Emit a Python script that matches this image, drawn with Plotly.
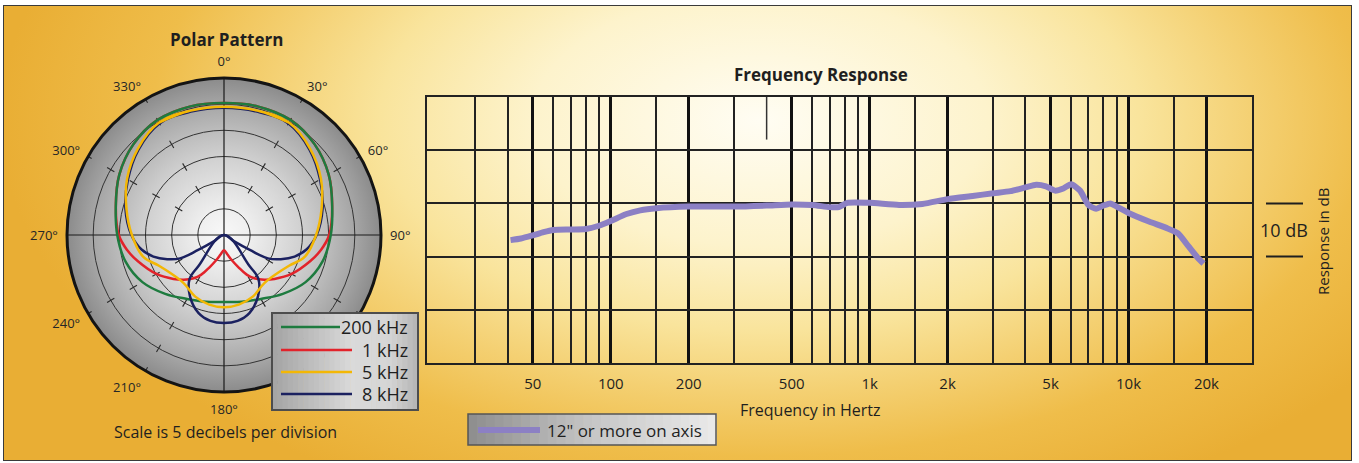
import numpy as np
import plotly.graph_objects as go

# ---------------- data ----------------
# Frequency response, 12" or more on axis
freq_hz = [41, 45, 50, 55, 60, 70, 80, 90, 100, 115, 130, 150, 200, 300, 400, 500,
           600, 700, 760, 820, 1000, 1300, 1600, 2000, 2500, 3000, 3500, 4000, 4400,
           4800, 5200, 5600, 6000, 6500, 7000, 7500, 8000, 8500, 9000, 10000, 12000,
           14000, 15500, 17000, 18500, 19500]
response_db = [-6.9, -6.6, -6.0, -5.4, -5.0, -4.9, -4.8, -4.2, -3.3, -2.0, -1.3, -0.9,
               -0.6, -0.6, -0.4, -0.2, -0.3, -0.7, -0.7, 0.1, 0.1, -0.3, -0.1, 0.8,
               1.4, 1.9, 2.3, 3.0, 3.5, 3.2, 2.4, 2.8, 3.6, 2.4, -0.3, -1.0, -0.4,
               0.0, -0.6, -1.8, -3.4, -4.6, -5.6, -8.0, -10.2, -11.3]
response_name = '12" or more on axis'

freq_major = [50, 100, 200, 500, 1000, 2000, 5000, 10000, 20000]
freq_major_labels = ["50", "100", "200", "500", "1k", "2k", "5k", "10k", "20k"]
freq_minor = [30, 40, 60, 70, 80, 90, 150, 300, 600, 700, 800, 900, 1500,
              3000, 4000, 6000, 7000, 8000, 9000, 15000]
db_grid = [-20, -10, 0, 10]

# Polar pattern, dB relative to on-axis, one half (0..180 deg), symmetric
green_theta = [0, 15, 30, 45, 60, 75, 90, 105, 120, 135, 150, 165, 180]
green_db = [-4.8, -4.6, -4.6, -5.5, -6.9, -8.6, -9.6, -10.5, -12.0, -14.1, -15.9, -16.8, -17.2]

red_theta = [0, 15, 30, 45, 60, 75, 90, 99, 107, 120, 131, 138, 145, 150, 156, 163, 170, 180]
red_db = [-4.8, -4.6, -4.6, -5.5, -6.9, -8.6, -9.9, -11.3, -12.8, -15.1, -17.2, -18.5,
          -19.9, -21.2, -23.3, -25.0, -26.2, -27.1]

yellow_theta = [0, 15, 30, 45, 60, 75, 90, 105, 115, 125, 140, 155, 168, 180]
yellow_db = [-5.5, -5.4, -5.2, -6.7, -8.6, -10.7, -12.4, -14.0, -16.2, -17.4, -18.0,
             -17.0, -16.4, -16.2]

navy_front_theta = [0, 15, 30, 45, 60, 75, 90, 100, 107, 113, 118, 120, 122, 124]
navy_front_db = [-5.7, -5.6, -5.4, -6.9, -8.8, -10.5, -12.3, -14.0, -15.9, -18.2,
                 -20.5, -24.3, -27.7, -30.0]
navy_rear_theta = [139, 140.5, 142, 151, 162, 171, 180]
navy_rear_db = [-30.0, -22.4, -19.3, -16.6, -14.3, -13.4, -13.2]

polar_names = ["200 kHz", "1 kHz", "5 kHz", "8 kHz"]
polar_colors = ["#1e7b3f", "#e2232b", "#f3b705", "#1b2160"]

angle_ticks = list(range(0, 360, 30))
angle_hidden = [120, 150]          # these labels sit under the legend box
ring_db = [-25, -20, -15, -10, -5]

# ---------------- layout constants ----------------
W, H = 1359, 463
FONT = "Open Sans"
INK = "#1f1f1f"
PANEL = (3, 5, 1352, 461)          # x0, y0, x1, y1 in pixels
PCX, PCY, PR = 224, 235, 157       # polar centre / radius in pixels
FR = (427, 97, 1252, 363)          # frequency plot area in pixels
DB_MIN, DB_MAX = -30, 0
AXIS_EXT = 2.5                     # cross-hair overshoot beyond 0 dB ring


def mirror(theta, vals):
    """Full loop (ordered 180 -> 360 -> 180) from one symmetric half."""
    th = [360 - t for t in reversed(theta)] + list(theta[1:])
    vv = list(reversed(vals)) + list(vals[1:])
    return th, vv


fig = go.Figure()

# ---- background panel, pixel coordinates ----
fig.add_trace(go.Scatter(
    x=[0, 1520, 1520, 0, 0], y=[-300, -300, 540, 540, -300],
    mode="lines", line=dict(width=0), fill="toself",
    fillgradient=dict(type="radial", colorscale=[
        [0.0, "#fffdf3"], [0.3, "#fdf3cc"], [0.5, "#f9e49c"],
        [0.65, "#f4d072"], [0.8, "#efbd4a"], [1.0, "#e9ae34"]]),
    hoverinfo="skip", showlegend=False, xaxis="x", yaxis="y"))

# grey shaded disc behind the polar grid
t = np.linspace(0, 2 * np.pi, 361)
fig.add_trace(go.Scatter(
    x=PCX + PR * np.cos(t), y=PCY + PR * np.sin(t),
    mode="lines", line=dict(width=0), fill="toself",
    fillgradient=dict(type="radial", colorscale=[
        [0.0, "#f8f8f8"], [0.15, "#f0f0f0"], [0.5, "#d0d0d0"],
        [0.66, "#bdbdbd"], [0.83, "#a6a6a6"], [1.0, "#8b8b8b"]]),
    hoverinfo="skip", showlegend=False, xaxis="x", yaxis="y"))

# ---- frequency response ----
fig.add_trace(go.Scatter(
    x=[400, 400], y=[20, 12], mode="lines",
    line=dict(color="#333", width=1.5), hoverinfo="skip",
    showlegend=False, xaxis="x2", yaxis="y2"))
fig.add_trace(go.Scatter(
    x=freq_hz, y=response_db, mode="lines", name=response_name,
    line=dict(color="#8c80c4", width=6, shape="spline", smoothing=0.6),
    showlegend=False, xaxis="x2", yaxis="y2"))

# ---- polar pattern ----
spokes = [a for a in angle_ticks if a % 90 != 0]
tick_r, tick_t = [], []
for ring in [-20, -15, -10, -5, 0]:
    for a in spokes:
        tick_r += [ring - 0.8, ring + 0.8, None]
        tick_t += [a, a, None]
fig.add_trace(go.Scatterpolar(
    r=tick_r, theta=tick_t, mode="lines", cliponaxis=False,
    line=dict(color="#2a2a2a", width=1.1), hoverinfo="skip", showlegend=False))

for th in ([0, 0, 180], [90, 90, 270]):
    fig.add_trace(go.Scatterpolar(
        r=[AXIS_EXT, DB_MIN, AXIS_EXT], theta=th, mode="lines", cliponaxis=False,
        line=dict(color="#1a1a1a", width=1.2), hoverinfo="skip", showlegend=False))


def closed_loop(theta, vals):
    th, vv = mirror(theta, vals)
    # loop from 0 deg round to 0 deg, with a short overlap so the spline closes cleanly
    th = [t % 360 for t in th]
    i0 = th.index(0)
    th = th[i0:] + th[1:i0 + 1]
    vv = vv[i0:] + vv[1:i0 + 1]
    return [th[-3], th[-2]] + th + [th[1], th[2]], [vv[-3], vv[-2]] + vv + [vv[1], vv[2]]


def poly(r, th, color, name):
    return go.Scatterpolar(r=r, theta=th, mode="lines", name=name,
                           line=dict(color=color, width=2.5, shape="spline", smoothing=1.1),
                           showlegend=False)


# 1 kHz: cusp at the rear, so an open path starting and ending at 180 deg
th, vv = mirror(red_theta, red_db)
fig.add_trace(poly(vv, th, polar_colors[1], polar_names[1]))
# 200 Hz
th, vv = closed_loop(green_theta, green_db)
fig.add_trace(poly(vv, th, polar_colors[0], polar_names[0]))
# 8 kHz front and rear lobes
th, vv = mirror(navy_front_theta, navy_front_db)
th = [t - 360 if t > 180 else t for t in th]
order = sorted(range(len(th)), key=lambda i: th[i])
fig.add_trace(poly([vv[i] for i in order], [th[i] for i in order], polar_colors[3], polar_names[3]))
th, vv = mirror(navy_rear_theta, navy_rear_db)
fig.add_trace(poly(vv, th, polar_colors[3], polar_names[3]))
# 5 kHz
th, vv = closed_loop(yellow_theta, yellow_db)
fig.add_trace(poly(vv, th, polar_colors[2], polar_names[2]))

# ---------------- decorations ----------------
shapes = []
annotations = []


def ann(x, y, text, size, bold=False, xanchor="center", yanchor="middle", angle=0, color=INK):
    annotations.append(dict(
        x=x, y=y, xref="x", yref="y", text=f"<b>{text}</b>" if bold else text,
        showarrow=False, xanchor=xanchor, yanchor=yanchor, textangle=angle,
        font=dict(family=FONT, size=size, color=color)))


def blend(stops, f):
    for (f0, c0), (f1, c1) in zip(stops[:-1], stops[1:]):
        if f <= f1:
            k = (f - f0) / (f1 - f0) if f1 > f0 else 0
            a = [int(c0[i:i + 2], 16) for i in (1, 3, 5)]
            b = [int(c1[i:i + 2], 16) for i in (1, 3, 5)]
            return "rgb(%d,%d,%d)" % tuple(round(a[j] + (b[j] - a[j]) * k) for j in range(3))
    return stops[-1][1]


def grad_box(x0, y0, x1, y1, stops, border, bw, n=28):
    step = (x1 - x0) / n
    for i in range(n):
        shapes.append(dict(type="rect", xref="x", yref="y", layer="above",
                           x0=x0 + i * step, x1=x0 + (i + 1) * step + 0.6, y0=y0, y1=y1,
                           line=dict(width=0), fillcolor=blend(stops, (i + 0.5) / n)))
    shapes.append(dict(type="rect", xref="x", yref="y", layer="above",
                       x0=x0, x1=x1, y0=y0, y1=y1, line=dict(color=border, width=bw)))


# polar legend
LG = (272, 313, 418, 410)
grad_box(*LG, [(0, "#a3a3a3"), (0.55, "#dadada"), (0.8, "#d5d5d5"), (1, "#b4b4b4")], "#4d4d4d", 2)
legend_rows = [327, 350, 372, 394]
legend_line_end = [340, 352, 352, 352]
for name, color, yy, xe in zip(polar_names, polar_colors, legend_rows, legend_line_end):
    shapes.append(dict(type="line", xref="x", yref="y", layer="above",
                       x0=281, x1=xe, y0=yy, y1=yy, line=dict(color=color, width=2.5)))
    ann(410, yy, name, 18, xanchor="right")

# frequency response legend
LF = (468, 414, 716, 445)
grad_box(*LF, [(0, "#8d8d8d"), (0.5, "#c6c6c6"), (1, "#eaeaea")], "#555555", 1.5)
shapes.append(dict(type="line", xref="x", yref="y", layer="above",
                   x0=478, x1=540, y0=430, y1=430, line=dict(color="#8c80c4", width=6)))
ann(545, 430, response_name, 17, xanchor="left")

# 10 dB scale bar
for v in (0, -10):
    shapes.append(dict(type="line", xref="paper", yref="y2", layer="above",
                       x0=1266 / W, x1=1303 / W, y0=v, y1=v, line=dict(color=INK, width=2)))
annotations.append(dict(x=1284 / W, y=-5, xref="paper", yref="y2", text="10 dB",
                        xanchor="center", yanchor="middle", showarrow=False,
                        font=dict(family=FONT, size=18, color=INK)))
ann(1323, 242, "Response in dB", 15, angle=-90)

# white plotting area of the response chart, beneath its grid
shapes.append(dict(type="rect", xref="x2 domain", yref="y2 domain", layer="below",
                   x0=0, x1=1, y0=0, y1=1, line=dict(width=0), fillcolor="white"))

# outer panel frame
shapes.append(dict(type="rect", xref="x", yref="y", layer="above",
                   x0=PANEL[0], x1=PANEL[2], y0=PANEL[1], y1=PANEL[3],
                   line=dict(color="#3a3a3a", width=2)))

ann(226, 40, "Polar Pattern", 17, bold=True)
ann(821, 75, "Frequency Response", 17, bold=True)
ann(225, 432, "Scale is 5 decibels per division", 16)
ann(810, 410, "Frequency in Hertz", 16)

fig.update_layout(
    width=W, height=H, margin=dict(l=0, r=0, t=0, b=0),
    paper_bgcolor="white", plot_bgcolor="rgba(0,0,0,0)",
    showlegend=False, hovermode=False,
    xaxis=dict(domain=[PANEL[0] / W, PANEL[2] / W], range=[PANEL[0], PANEL[2]],
               visible=False, fixedrange=True),
    yaxis=dict(domain=[1 - PANEL[3] / H, 1 - PANEL[1] / H], range=[PANEL[3], PANEL[1]],
               visible=False, fixedrange=True),
    xaxis2=dict(domain=[FR[0] / W, FR[2] / W], type="log",
                range=[np.log10(19.5), np.log10(30000)], anchor="y2",
                tickmode="array", tickvals=freq_major, ticktext=freq_major_labels,
                showgrid=True, gridcolor="#111111", gridwidth=3.2,
                minor=dict(tickmode="array", tickvals=freq_minor, showgrid=True,
                           gridcolor="#222222", gridwidth=1.5, ticks=""),
                showline=True, mirror=True, linecolor="#222222", linewidth=2,
                ticks="outside", ticklen=6, tickcolor="rgba(0,0,0,0)",
                tickfont=dict(family=FONT, size=15, color=INK), zeroline=False,
                fixedrange=True),
    yaxis2=dict(domain=[1 - FR[3] / H, 1 - FR[1] / H], range=[-30, 20], anchor="x2",
                tickmode="array", tickvals=db_grid, showticklabels=False, ticks="",
                showgrid=True, gridcolor="#222222", gridwidth=1.7,
                showline=True, mirror=True, linecolor="#222222", linewidth=2,
                zeroline=False, fixedrange=True),
    polar=dict(
        domain=dict(x=[(PCX - PR) / W, (PCX + PR) / W], y=[1 - (PCY + PR) / H, 1 - (PCY - PR) / H]),
        bgcolor="rgba(0,0,0,0)",
        radialaxis=dict(range=[DB_MIN, DB_MAX], tickvals=ring_db, showticklabels=False,
                        ticks="", showline=False, showgrid=True,
                        gridcolor="#333333", gridwidth=1.2),
        angularaxis=dict(rotation=90, direction="clockwise", tickmode="array",
                         tickvals=angle_ticks,
                         ticktext=["" if a in angle_hidden else f"{a}°" for a in angle_ticks],
                         showgrid=False, showline=True, linecolor="#141414", linewidth=3,
                         ticks="outside", ticklen=5, tickcolor="rgba(0,0,0,0)",
                         tickfont=dict(family=FONT, size=13, color="#262626")),
    ),
    shapes=shapes, annotations=annotations,
)

fig.write_html("out.html")
